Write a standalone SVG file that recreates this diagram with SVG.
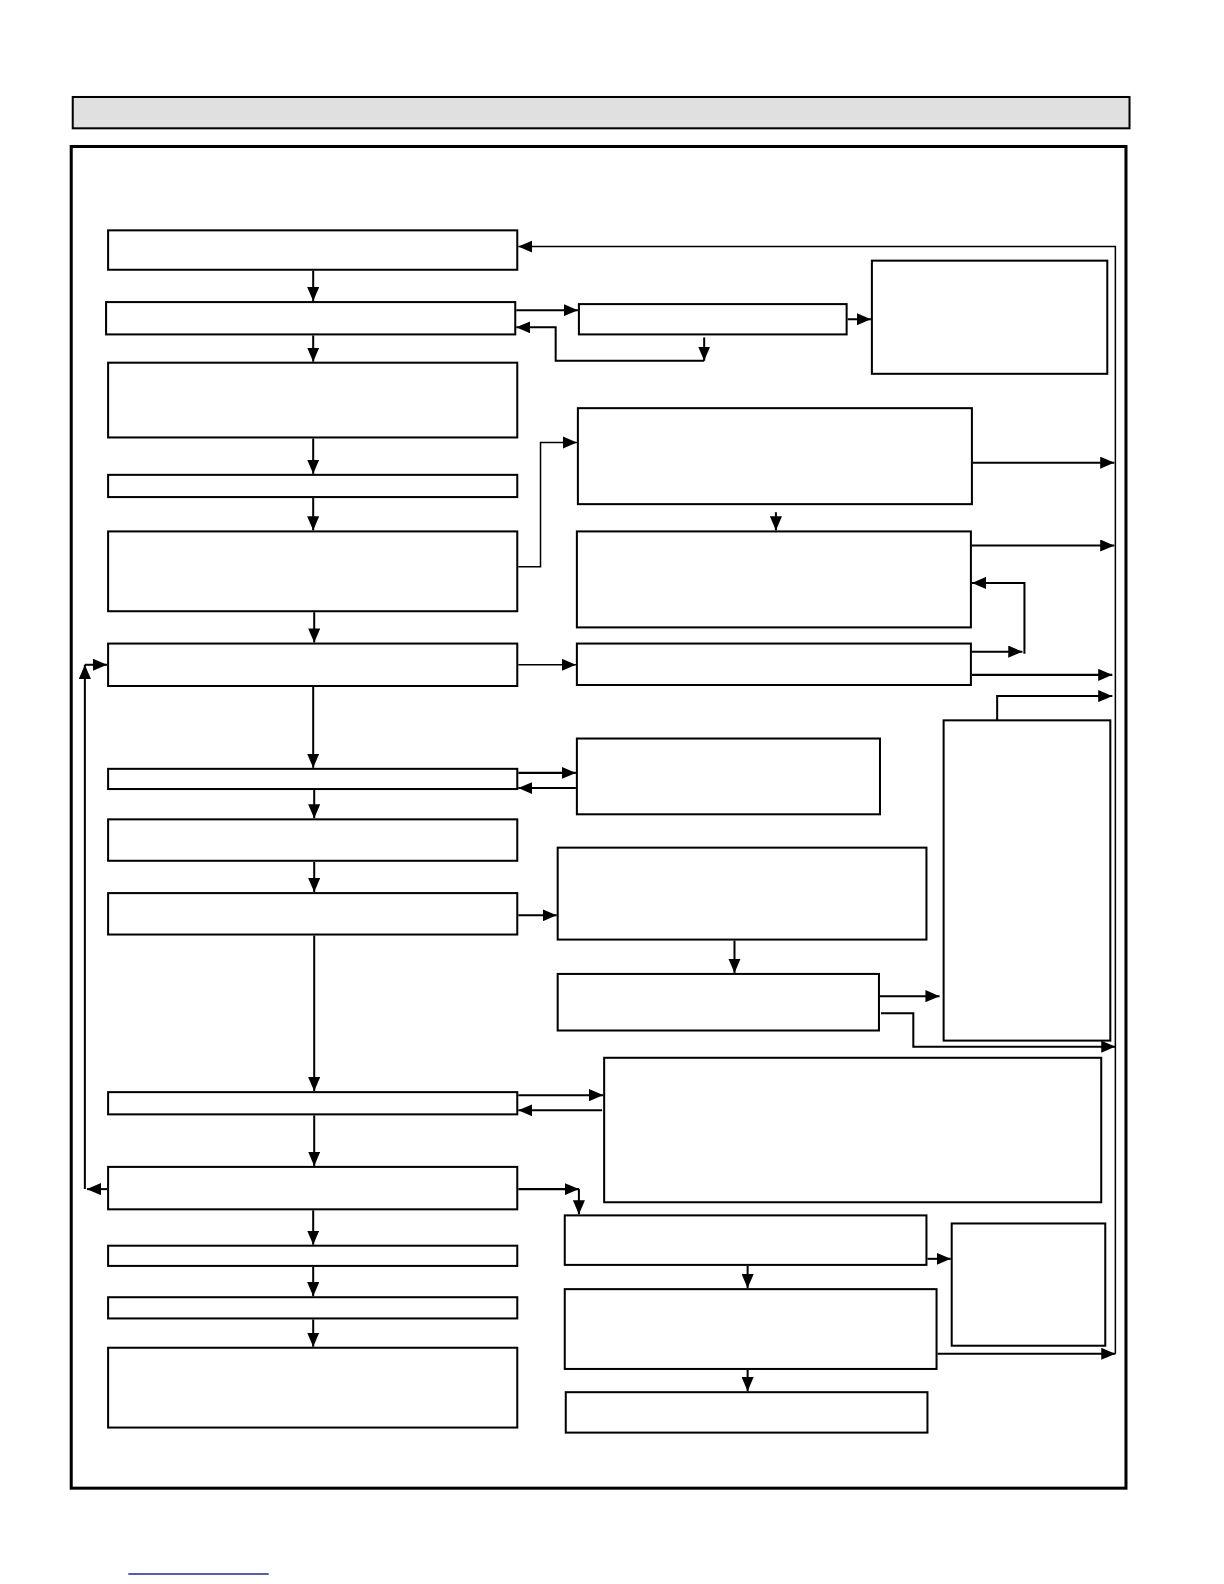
<svg xmlns="http://www.w3.org/2000/svg" width="1224" height="1584" viewBox="0 0 1224 1584">
<style>
.box{fill:#fff;stroke:#000;stroke-width:2}
.c{fill:none;stroke:#000;stroke-width:2}
.t{fill:none;stroke:#000;stroke-width:1.5}
</style>
<defs>
<marker id="a" markerUnits="userSpaceOnUse" markerWidth="14" markerHeight="12" viewBox="0 0 14 12" refX="14" refY="6" orient="auto">
<path d="M0,0 L14,6 L0,12 Z" fill="#000"/>
</marker>
</defs>
<rect width="1224" height="1584" fill="#fff"/>
<g transform="scale(1.0103)">
<g id="header"><rect x="72" y="96" width="1046" height="31" fill="#e0e0e0" stroke="#000" stroke-width="2"/></g>
<g id="frame"><rect x="70.5" y="145" width="1044" height="1328" fill="none" stroke="#000" stroke-width="3"/></g>
<g id="left">
<g id="b1"><rect class="box" x="107" y="228" width="405" height="39"/></g>
<g id="b2"><rect class="box" x="105" y="299" width="405" height="32"/></g>
<g id="b3"><rect class="box" x="107" y="359" width="405" height="74"/></g>
<g id="b4"><rect class="box" x="107" y="470" width="405" height="22"/></g>
<g id="b5"><rect class="box" x="107" y="526" width="405" height="79"/></g>
<g id="b6"><rect class="box" x="107" y="637" width="405" height="42"/></g>
<g id="b7"><rect class="box" x="107" y="761" width="405" height="20"/></g>
<g id="b8"><rect class="box" x="107" y="811" width="405" height="41"/></g>
<g id="b9"><rect class="box" x="107" y="884" width="405" height="41"/></g>
<g id="b10"><rect class="box" x="107" y="1081" width="405" height="22"/></g>
<g id="b11"><rect class="box" x="107" y="1155" width="405" height="42"/></g>
<g id="b12"><rect class="box" x="107" y="1233" width="405" height="20"/></g>
<g id="b13"><rect class="box" x="107" y="1284" width="405" height="21"/></g>
<g id="b14"><rect class="box" x="107" y="1334" width="405" height="79"/></g>
</g>
<g id="right">
<g id="r1"><rect class="box" x="573" y="301" width="265" height="30"/></g>
<g id="r2"><rect class="box" x="863" y="258" width="233" height="112"/></g>
<g id="r3"><rect class="box" x="572" y="404" width="390" height="95"/></g>
<g id="r4"><rect class="box" x="571" y="526" width="390" height="95"/></g>
<g id="r5"><rect class="box" x="571" y="637" width="390" height="41"/></g>
<g id="r6"><rect class="box" x="571" y="731" width="300" height="75"/></g>
<g id="r7"><rect class="box" x="552" y="839" width="365" height="91"/></g>
<g id="r8"><rect class="box" x="552" y="964" width="318" height="56"/></g>
<g id="r9"><rect class="box" x="934" y="713" width="165" height="317"/></g>
<g id="r10"><rect class="box" x="598" y="1047" width="492" height="143"/></g>
<g id="r11"><rect class="box" x="559" y="1203" width="358" height="49"/></g>
<g id="r12"><rect class="box" x="942" y="1211" width="152" height="121"/></g>
<g id="r13"><rect class="box" x="559" y="1276" width="368" height="79"/></g>
<g id="r14"><rect class="box" x="560" y="1378" width="358" height="40"/></g>
</g>
<g id="connectors">
<line class="c" x1="310" y1="268" x2="310" y2="298" marker-end="url(#a)"/>
<line class="c" x1="310" y1="332" x2="310" y2="358" marker-end="url(#a)"/>
<line class="c" x1="310" y1="434" x2="310" y2="469" marker-end="url(#a)"/>
<line class="c" x1="310" y1="493" x2="310" y2="525" marker-end="url(#a)"/>
<line class="c" x1="311" y1="606" x2="311" y2="636" marker-end="url(#a)"/>
<line class="c" x1="310" y1="678" x2="310" y2="760" marker-end="url(#a)"/>
<line class="c" x1="311" y1="782" x2="311" y2="810" marker-end="url(#a)"/>
<line class="c" x1="311" y1="853" x2="311" y2="883" marker-end="url(#a)"/>
<line class="c" x1="311" y1="926" x2="311" y2="1080" marker-end="url(#a)"/>
<line class="c" x1="311" y1="1104" x2="311" y2="1154" marker-end="url(#a)"/>
<line class="c" x1="310" y1="1198" x2="310" y2="1232" marker-end="url(#a)"/>
<line class="c" x1="310" y1="1254" x2="310" y2="1283" marker-end="url(#a)"/>
<line class="c" x1="310" y1="1306" x2="310" y2="1333" marker-end="url(#a)"/>
<path class="t" d="M1104,1340 V244 H513" marker-end="url(#a)"/>
<line class="c" x1="511" y1="307" x2="572" y2="307" marker-end="url(#a)"/>
<line class="c" x1="697" y1="334" x2="697" y2="357" marker-end="url(#a)"/>
<path class="c" d="M697,357 H550 V324 H511" marker-end="url(#a)"/>
<line class="c" x1="839" y1="316" x2="862" y2="316" marker-end="url(#a)"/>
<path class="t" d="M513,561 H535 V438 H571" marker-end="url(#a)"/>
<line class="c" x1="963" y1="458" x2="1103" y2="458" marker-end="url(#a)"/>
<line class="c" x1="768" y1="507" x2="768" y2="525" marker-end="url(#a)"/>
<line class="c" x1="962" y1="540" x2="1103" y2="540" marker-end="url(#a)"/>
<line class="t" x1="513" y1="658" x2="570" y2="658" marker-end="url(#a)"/>
<line class="c" x1="962" y1="645" x2="1012" y2="645" marker-end="url(#a)"/>
<path class="c" d="M1014,647 V577 H962" marker-end="url(#a)"/>
<line class="c" x1="962" y1="668" x2="1101" y2="668" marker-end="url(#a)"/>
<path class="c" d="M987,713 V689 H1101" marker-end="url(#a)"/>
<line class="c" x1="513" y1="765" x2="570" y2="765" marker-end="url(#a)"/>
<line class="c" x1="570" y1="780" x2="513" y2="780" marker-end="url(#a)"/>
<line class="c" x1="513" y1="906" x2="551" y2="906" marker-end="url(#a)"/>
<line class="c" x1="727" y1="931" x2="727" y2="963" marker-end="url(#a)"/>
<line class="c" x1="871" y1="986" x2="930" y2="986" marker-end="url(#a)"/>
<path class="c" d="M872,1003 H904 V1036 H1104" marker-end="url(#a)"/>
<line class="c" x1="513" y1="1084" x2="597" y2="1084" marker-end="url(#a)"/>
<line class="c" x1="596" y1="1099" x2="513" y2="1099" marker-end="url(#a)"/>
<line class="c" x1="106" y1="1177" x2="86" y2="1177" marker-end="url(#a)"/>
<line class="c" x1="84" y1="1177" x2="84" y2="658" marker-end="url(#a)"/>
<line class="c" x1="84" y1="658" x2="106" y2="658" marker-end="url(#a)"/>
<line class="c" x1="513" y1="1177" x2="573" y2="1177" marker-end="url(#a)"/>
<line class="c" x1="573" y1="1177" x2="573" y2="1202" marker-end="url(#a)"/>
<line class="c" x1="918" y1="1246" x2="941" y2="1246" marker-end="url(#a)"/>
<line class="c" x1="740" y1="1253" x2="740" y2="1275" marker-end="url(#a)"/>
<line class="c" x1="928" y1="1340" x2="1104" y2="1340" marker-end="url(#a)"/>
<line class="c" x1="740" y1="1356" x2="740" y2="1377" marker-end="url(#a)"/>
</g>
<line x1="127" y1="1558" x2="266" y2="1558" stroke="#1a2a8c" stroke-width="1.5"/>
</g>
</svg>
